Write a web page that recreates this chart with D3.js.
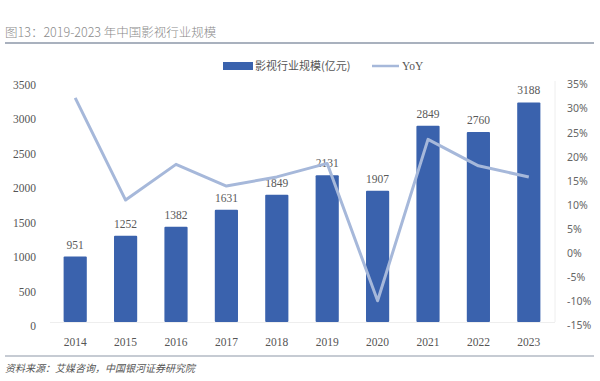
<!DOCTYPE html>
<html><head><meta charset="utf-8">
<script src="https://cdn.jsdelivr.net/npm/d3@7"></script>
<style>
html,body{margin:0;padding:0;background:#fff;}
svg{display:block;}
</style></head>
<body>
<svg id="c" width="600" height="381"></svg>
<script>
const years = ["2014","2015","2016","2017","2018","2019","2020","2021","2022","2023"];
const scale = [951,1252,1382,1631,1849,2131,1907,2849,2760,3188];
const yoy = [31.5,10.3,17.7,13.2,15.1,17.9,-10.6,22.9,17.4,15.1];
const leftTicks = [0,500,1000,1500,2000,2500,3000,3500];
const rightTicks = [-15,-10,-5,0,5,10,15,20,25,30,35];
const title = "图13：2019-2023 年中国影视行业规模";
const source = "资料来源：艾媒咨询，中国银河证券研究院";
const legendBar = "影视行业规模(亿元)";
const legendLine = "YoY";

const svg = d3.select("#c");
const barColor = "#3a62ad", lineColor = "#a6b8da";
const serif = "'Liberation Serif','Times New Roman',serif";
const sans = "'Noto Sans','Liberation Sans',sans-serif";
const cjk = "'Noto Sans CJK SC',sans-serif";

// title
svg.append("text").attr("x",5).attr("y",37).attr("font-family",cjk).attr("font-size",12.5)
  .attr("font-weight",300).attr("fill","#8a8a8a").text(title);
svg.append("line").attr("x1",5).attr("x2",594).attr("y1",43).attr("y2",43)
  .attr("stroke","#8d97a8").attr("stroke-width",1.5);

const x = d3.scaleBand().domain(years).range([50,554]).paddingInner(0.54).paddingOuter(0.27);
const y = d3.scaleLinear().domain([0,3500]).range([322,81]);
const y2 = d3.scaleLinear().domain([-15,35]).range([322,81]);

// faint frame lines
svg.append("line").attr("x1",555).attr("x2",555).attr("y1",81).attr("y2",322).attr("stroke","#eeeeee");
svg.append("line").attr("x1",50).attr("x2",555).attr("y1",322.5).attr("y2",322.5).attr("stroke","#eeeeee");

// left axis
const la = svg.append("g").attr("transform","translate(50,0)")
  .call(d3.axisLeft(y).tickValues(leftTicks).tickSize(0).tickPadding(14).tickFormat(d3.format("d")));
la.select(".domain").remove();
la.selectAll("text").attr("font-family",serif).attr("font-size",11.5).attr("fill","#555").attr("dy","0.65em");

// right axis
const ra = svg.append("g").attr("transform","translate(555,0)")
  .call(d3.axisRight(y2).tickValues(rightTicks).tickSize(0).tickPadding(12).tickFormat(d=>d+"%"));
ra.select(".domain").remove();
ra.selectAll("text").attr("font-family",sans).attr("font-size",10.5).attr("fill","#666").attr("dy","0.65em");

// x axis
const xa = svg.append("g").attr("transform","translate(0,322)")
  .call(d3.axisBottom(x).tickSize(0).tickPadding(16));
xa.select(".domain").remove();
xa.selectAll("text").attr("font-family",serif).attr("font-size",11.5).attr("fill","#555");

// bars
svg.append("g").selectAll("rect").data(years).join("rect")
  .attr("x",d=>x(d)).attr("width",x.bandwidth())
  .attr("y",(d,i)=>y(scale[i])).attr("height",(d,i)=>y(0)-y(scale[i]))
  .attr("fill",barColor).attr("rx",1);

// bar labels
svg.append("g").selectAll("text").data(years).join("text")
  .attr("x",d=>x(d)+x.bandwidth()/2).attr("y",(d,i)=>y(scale[i])-8)
  .attr("text-anchor","middle").attr("font-family",serif).attr("font-size",11.5).attr("fill","#595959")
  .text((d,i)=>scale[i]);

// line
const line = d3.line().x((d,i)=>x(years[i])+x.bandwidth()/2).y(d=>y2(d));
svg.append("path").datum(yoy).attr("d",line).attr("fill","none")
  .attr("stroke",lineColor).attr("stroke-width",3).attr("stroke-linejoin","round");

// legend
svg.append("rect").attr("x",223).attr("y",62).attr("width",30).attr("height",8).attr("fill",barColor);
svg.append("text").attr("x",255).attr("y",70).attr("font-family",cjk).attr("font-size",11).attr("fill","#555").text(legendBar);
svg.append("line").attr("x1",372).attr("x2",399).attr("y1",66).attr("y2",66).attr("stroke",lineColor).attr("stroke-width",2.5);
svg.append("text").attr("x",402).attr("y",70).attr("font-family",serif).attr("font-size",11.5).attr("fill","#555").text(legendLine);

// bottom rule and source
svg.append("line").attr("x1",5).attr("x2",594).attr("y1",356).attr("y2",356)
  .attr("stroke","#8d97a8").attr("stroke-width",1.2);
svg.append("text").attr("x",5).attr("y",372).attr("font-family",cjk).attr("font-size",10)
  .attr("font-style","italic").attr("fill","#555").text(source);
</script>
</body></html>
